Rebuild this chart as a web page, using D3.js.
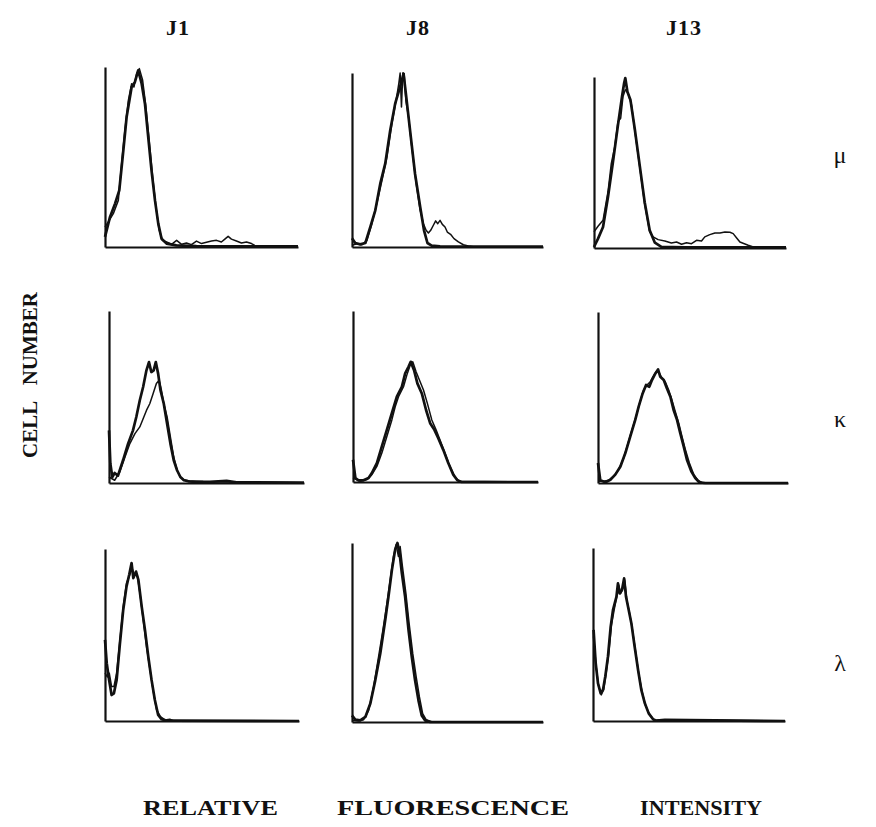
<!DOCTYPE html>
<html lang="en">
<head>
<meta charset="UTF-8">
<title>Relative fluorescence intensity histograms</title>
<script src="https://cdnjs.cloudflare.com/ajax/libs/d3/7.8.5/d3.min.js"></script>
<style>
    body { margin: 0; background: #fff; }
    svg { display: block; }
    .lbl { font-family: "Liberation Serif", "Times New Roman", serif; font-weight: bold; fill: #111; }
    .greek { font-family: "Liberation Serif", "DejaVu Serif", serif; fill: #111; font-size: 24px; }
    .axis path { stroke: #111; stroke-width: 2.2px; }
    .trace { fill: none; stroke: #111; stroke-linejoin: round; }
    .trace.a { stroke-width: 2.7px; }
    .trace.b { stroke-width: 1.5px; }
</style>
</head>
<body>
<div id="chart"></div>
<script>
// columns (clones) and rows (stained chain)
const clones = ["J1", "J8", "J13"];
const chains = ["μ", "κ", "λ"];
const xWords = ["RELATIVE", "FLUORESCENCE", "INTENSITY"];
const yWords = ["CELL", "NUMBER"];

// each series: [fluorescence % of axis, cell number % of axis]
const j1Mu_a = [[0,5.6],[2.6,16.7],[5.2,24.1],[7.4,31.5],[9.5,53.7],[11.2,72.2],[13.8,88.9],[15.5,91.7],[17.2,98.1],[19,90.7],[20.7,79.6],[22.4,61.1],[24.1,42.6],[25.9,25.9],[27.6,13],[29.3,4.6],[31.9,1.9],[37,0.9],[47.4,0.5],[61.2,0.4],[100,0.4]];
const j1Mu_b = [[0,11.1],[1.7,13.9],[4.3,18.5],[6.9,25.9],[8.6,46.3],[10.3,64.8],[12.1,81.5],[13.8,90.7],[15,88.9],[16.4,96.3],[17.8,99.1],[19.5,92.6],[21.2,77.8],[22.9,59.3],[24.7,38.9],[26.4,22.2],[28.1,9.3],[29.8,3.7],[31.9,2.8],[34.5,1.5],[37.1,3.7],[39.7,1.5],[42.2,2.2],[44.8,1.3],[47.4,3.3],[50,1.9],[52.6,2.6],[55.2,3.3],[57.8,3.7],[60.3,2.8],[62.1,4.4],[63.8,5.9],[65.5,4.4],[68.1,3.3],[70.7,2.2],[73.3,2.8],[75.9,1.9],[77.6,0.9],[81.9,0.4],[88.8,0.4],[100,0.2]];

const j8Mu_a = [[0,5],[1.7,2.3],[4.3,1.5],[7,2.3],[9.6,11.5],[12.2,21.1],[14.8,36.4],[17.4,47.9],[20,67],[22.6,82.4],[24.9,91],[26.1,95.8],[27,99.6],[27.8,92],[29,80.5],[30.8,63.2],[33,42.1],[35.7,23],[37.7,9.6],[39.5,2.3],[41.7,0.8],[46.1,0.4],[63.5,0.2],[100,0.2]];
const j8Mu_b = [[0,1],[2.6,1.9],[5.2,1.3],[7.8,3.8],[10.4,13.4],[13,24.9],[15.7,38.3],[18.3,51.7],[20.9,70.9],[23.1,84.3],[24.5,93.9],[25.2,100],[25.9,80.5],[26.6,100],[27.3,99.6],[28.2,84.3],[29.6,74.7],[31.3,57.5],[33.6,36.4],[35.7,21.1],[37.4,13.4],[38.8,9.6],[40,8],[41.2,9.6],[42.6,12.5],[43.8,15],[44.9,13.4],[46.1,15.3],[47.3,13],[48.7,11.5],[49.9,8.6],[51.6,7.3],[53.4,4.8],[55.7,2.9],[58.3,1.3],[60.9,0.6],[63.5,0.2],[100,0.2]];

const j13Mu_a = [[0,0.6],[2.1,5.5],[4.7,12.3],[7.3,29.9],[9.9,50.5],[12.5,72],[14.6,88.6],[15.7,96.5],[16.3,99.4],[17.4,91.4],[19,86.5],[21.2,69.9],[23.8,48.3],[26.4,26.8],[29,10.4],[31.7,3.1],[35.1,0.6],[47.3,0.4],[100,0.4]];
const j13Mu_b = [[0,9.4],[2.1,12.7],[4.7,16.2],[7.3,32.9],[9,49.3],[10.8,59.1],[12.5,74],[13.9,75.9],[15.1,88.6],[16.3,92.6],[17.7,90.6],[19.5,83.8],[21.2,69.1],[23.8,47.6],[26.4,25.6],[29,9.4],[30.8,6.5],[33.4,4.9],[36.9,4.1],[40.3,2.9],[43,3.5],[45.6,2.2],[48.2,3.1],[50.8,2.5],[53.4,4.5],[56,4.1],[57.7,6.5],[60.3,7.8],[63,8.8],[65.6,8.8],[68.2,9.4],[70.8,9.2],[72.5,8.4],[74.3,5.9],[76,3.5],[78.3,2.5],[80.3,1.6],[83,0.6],[100,0.4]];

const j1Kappa_a = [[0,30.6],[0.7,11.2],[1.7,3.5],[2.9,5.8],[4.6,4.3],[7.2,13.2],[9.8,22.9],[12.3,30.6],[14,38.4],[15.8,48.1],[17.5,55.8],[19.2,65.5],[20.5,70.3],[21.7,64.5],[22.9,65.5],[24,70.3],[25.2,63.6],[26.4,53.9],[28.1,46.1],[29.8,34.5],[31.5,22.9],[33.2,13.2],[34.9,7.4],[36.6,3.5],[38.4,1.6],[40.6,1],[44.9,0.6],[51.7,0.6],[60.3,1.2],[65.4,0.4],[100,0.2]];
const j1Kappa_b = [[0,3.5],[2.9,1.6],[5.5,6.4],[8.2,15.1],[10.7,22.9],[13.3,28.7],[15.8,32.6],[17.5,37.4],[19.2,42.2],[20.9,46.1],[22.6,51.9],[24.3,57.8],[25.7,59.7],[26.9,53.9],[28.1,46.1],[29.8,38.4],[31.5,26.7],[33.2,15.1],[34.9,7.4],[36.6,3.5],[38.4,1.9],[41.4,1.2],[48.3,0.8],[58.6,0.6],[100,0.2]];

const j8Kappa_a = [[0,13],[1.3,2.3],[3,1],[5.7,1],[8.4,2.3],[10.2,5.2],[12.9,11.1],[15.6,20.8],[18.3,30.5],[21,40.2],[23.7,49.9],[26.4,55.7],[28.2,63.5],[30,67.4],[31.2,70.3],[33,65.4],[34.8,57.7],[37.2,51.8],[39.5,42.1],[41.7,34.4],[44,30.5],[46.1,25.6],[48.8,18.8],[51.5,11.1],[54.2,4.3],[56.4,1],[58.7,0],[100,0]];
const j8Kappa_b = [[0,2.3],[4,0.4],[7.5,1.4],[10.2,4.3],[12.9,9.1],[15.6,16.9],[18.3,26.6],[21,36.3],[22.8,44],[24.6,49.9],[27.3,55.7],[29.1,62.5],[30.9,68.3],[32.3,70.3],[34.1,64.5],[35.9,59.6],[38.1,53.8],[40.2,46],[42.6,36.3],[44.9,30.5],[47,24.7],[49.7,16.9],[52.4,9.1],[55.1,2.9],[57.5,0.4],[100,0]];

const j13Kappa_a = [[0,11.7],[1.2,1.6],[3.9,0.4],[6.5,1.9],[9.1,4.9],[11.8,9.7],[14.4,17.5],[17,27.2],[19.6,36.9],[21.4,44.7],[23.5,52.4],[25.3,57.3],[27,56.3],[28.4,60.2],[30.2,64.1],[31.6,66.4],[32.8,62.1],[34.6,60.2],[36.3,55.3],[38.1,50.5],[39.8,42.7],[41.6,36.9],[43.3,29.1],[45.1,21.4],[46.8,13.6],[49.1,6.8],[51.2,2.9],[53.3,0.4],[56.5,0],[100,0]];
const j13Kappa_b = [[0,1],[3,1],[5.6,1.6],[8.2,3.9],[10.9,7.8],[13.5,14.6],[15.8,23.3],[17.9,31.1],[20,38.8],[21.9,46.6],[24,54.4],[25.8,57.3],[27.5,59.2],[28.9,62.1],[30.5,65],[31.9,65],[33.7,61.2],[35.4,59.2],[37.2,54.4],[38.9,48.5],[40.7,41.7],[42.5,35],[44.2,27.2],[46,19.4],[48.1,11.7],[50.4,4.9],[52.6,1.6],[54.7,0.2],[100,0]];

const j1Lambda_a = [[0,47.2],[0.9,33.6],[2.1,23.9],[3.4,15.1],[4.6,16.1],[6,23.9],[7.7,45.2],[9.4,64.7],[11.1,78.3],[12.5,85.2],[13.7,91.8],[14.6,83.1],[16,86.9],[17.2,82.1],[18.9,66.6],[20.6,53],[22.3,37.5],[24,23.9],[25.7,12.2],[27.4,3.5],[29.2,1],[31.7,0.2],[35.2,0.2],[100,0]];
const j1Lambda_b = [[0,27.8],[1.2,25.6],[2.2,27.8],[3.4,20],[4.6,20],[6,27.8],[7.7,47.2],[9.4,66.6],[11.1,80.2],[12.5,84.1],[13.9,88.9],[15.1,85],[16.6,85],[18,74.4],[19.7,58.8],[21.4,43.3],[23.2,29.7],[24.9,17.1],[26.6,6.4],[28.6,2.5],[30.9,0.6],[33.4,1],[35.2,0.2],[100,0]];

const j8Lambda_a = [[0,3.7],[1.7,1.3],[4.3,0.9],[7,2.8],[9.6,10.3],[12.2,23.4],[14.8,38.3],[17.4,57],[19.1,70.1],[20.9,85],[22.6,96.3],[23.8,100],[24.9,94.4],[26.1,83.2],[27.8,70.1],[29.6,51.4],[31.3,36.4],[33,23.4],[34.8,12.1],[36.5,3.7],[38.3,0.9],[40.9,0],[100,0]];
const j8Lambda_b = [[0,0.9],[3.5,0.6],[6.1,1.3],[8.7,6.5],[11.3,19.6],[13.9,36.4],[16.2,51.4],[18.3,66.4],[20,79.4],[21.7,92.5],[23.1,99.1],[24.3,92.5],[25.2,98.1],[26.4,86.9],[28.2,72],[29.9,55.1],[31.8,38.3],[33.6,25.2],[35.3,14],[37,4.7],[38.8,1.3],[41.7,0.2],[100,0]];

const j13Lambda_a = [[0.3,52.7],[1.4,33.4],[2.6,21.8],[4,16],[5.2,18],[6.4,25.7],[7.8,37.3],[9.2,54.4],[10.4,64.1],[12.2,71.8],[13,79.5],[13.9,73.7],[15.1,75.7],[16.2,82.4],[17.2,71.8],[18.6,64.1],[20,56.4],[21.7,42.9],[23.5,29.3],[25.2,17.8],[27,10.2],[29,4.4],[31.3,1],[33,0.2],[37.4,0.6],[100,0]];
const j13Lambda_b = [[0.3,48.8],[1.6,31.9],[2.9,20.3],[4.3,15.1],[5.6,18.3],[6.8,27.4],[8.2,39],[9.6,55.4],[11.3,66],[12.5,72.8],[13.4,78.6],[14.4,73.7],[15.5,76.6],[16.5,81.5],[17.6,69.9],[18.9,63.1],[20.3,54.4],[22.1,40.9],[23.8,27.4],[25.6,16.8],[27.3,9.1],[29.4,3.9],[31.7,0.6],[100,0]];

// panel rows (chains) x columns (clones)
const panels = [
    [[j1Mu_a, j1Mu_b], [j8Mu_a, j8Mu_b], [j13Mu_a, j13Mu_b]],
    [[j1Kappa_a, j1Kappa_b], [j8Kappa_a, j8Kappa_b], [j13Kappa_a, j13Kappa_b]],
    [[j1Lambda_a, j1Lambda_b], [j8Lambda_a, j8Lambda_b], [j13Lambda_a, j13Lambda_b]]
];

// axis boxes: origin x, baseline y, width, height
const frames = [
    [{x: 105, y: 247, w: 193, h: 180}, {x: 352, y: 247, w: 191, h: 174}, {x: 594, y: 248, w: 192, h: 171}],
    [{x: 109, y: 483, w: 195, h: 172}, {x: 353, y: 482, w: 185, h: 171}, {x: 598, y: 483, w: 190, h: 171}],
    [{x: 105, y: 721, w: 194, h: 172}, {x: 352, y: 722, w: 191, h: 179}, {x: 593, y: 721, w: 192, h: 173}]
];

const svg = d3.select("#chart").append("svg")
    .attr("width", 876)
    .attr("height", 827);

panels.forEach((row, r) => {
    row.forEach((pair, c) => {
        const f = frames[r][c];
        const x = d3.scaleLinear().domain([0, 100]).range([f.x, f.x + f.w]);
        const y = d3.scaleLinear().domain([0, 100]).range([f.y, f.y - f.h]);
        const line = d3.line().x(d => x(d[0])).y(d => y(d[1]));

        svg.append("g")
            .attr("class", "axis")
            .attr("transform", `translate(0,${f.y})`)
            .call(d3.axisBottom(x).ticks(0).tickSizeOuter(0));

        svg.append("g")
            .attr("class", "axis")
            .attr("transform", `translate(${f.x},0)`)
            .call(d3.axisLeft(y).ticks(0).tickSizeOuter(0));

        svg.append("path").datum(pair[0]).attr("class", "trace a").attr("d", line);
        svg.append("path").datum(pair[1]).attr("class", "trace b").attr("d", line);
    });
});

// clone titles
const titleX = [178, 418, 684];
svg.selectAll(".title")
    .data(clones)
    .enter().append("text")
    .attr("class", "lbl title")
    .attr("x", (d, i) => titleX[i])
    .attr("y", 35)
    .attr("text-anchor", "middle")
    .attr("font-size", 22)
    .attr("letter-spacing", 1)
    .text(d => d);

// chain labels on the right
const chainY = [163, 427, 671];
svg.selectAll(".greek")
    .data(chains)
    .enter().append("text")
    .attr("class", "greek")
    .attr("x", 840)
    .attr("y", (d, i) => chainY[i])
    .attr("text-anchor", "middle")
    .text(d => d);

// x label words
const xWordPos = [[143, 135], [337, 232], [640, 122]];
svg.selectAll(".xword")
    .data(xWords)
    .enter().append("text")
    .attr("class", "lbl xword")
    .attr("x", (d, i) => xWordPos[i][0])
    .attr("y", 815)
    .attr("font-size", 20)
    .attr("textLength", (d, i) => xWordPos[i][1])
    .attr("lengthAdjust", "spacingAndGlyphs")
    .text(d => d);

// y label words (rotated): CELL starts low, NUMBER ends near the top
const yWordPos = [[458, "start"], [292, "end"]];
svg.selectAll(".yword")
    .data(yWords)
    .enter().append("text")
    .attr("class", "lbl yword")
    .attr("transform", (d, i) => `translate(37,${yWordPos[i][0]}) rotate(-90)`)
    .attr("text-anchor", (d, i) => yWordPos[i][1])
    .attr("font-size", 21)
    .text(d => d);
</script>
</body>
</html>
